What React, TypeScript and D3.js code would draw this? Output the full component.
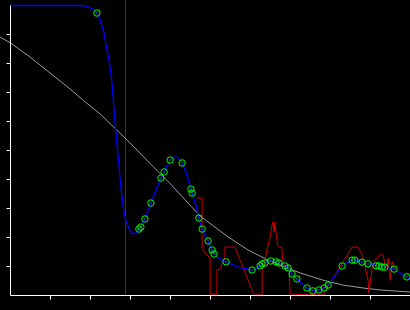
import React from "react";
import * as d3 from "d3";

const W = 410;
const H = 310;

// x domain 0..10, y domain 0..1 (no tick labels shown in reference)
const xTicks = [1, 2, 3, 4, 5, 6, 7, 8, 9];
const yTicks = [0.1, 0.2, 0.3, 0.4, 0.5, 0.6, 0.7, 0.8, 0.9];
const markerX = 2.875;

const grayX = [-0.26, 0, 0.49, 0.99, 1.49, 1.81, 2.24, 2.66, 2.99, 3.49, 3.99, 4.74, 5.44, 5.94, 6.44, 6.86, 7.24, 7.81, 8.31, 8.81, 9.24, 9.99];
const grayY = [0.891, 0.871, 0.822, 0.767, 0.712, 0.674, 0.626, 0.570, 0.526, 0.455, 0.386, 0.274, 0.202, 0.157, 0.122, 0.098, 0.078, 0.053, 0.036, 0.026, 0.019, 0.012];

const blueX = [0, 1.79, 1.91, 2.06, 2.16, 2.24, 2.34, 2.39, 2.44, 2.49, 2.53, 2.57, 2.63, 2.70, 2.76, 2.82, 2.88, 2.99, 3.06, 3.14, 3.21, 3.26, 3.36, 3.51, 3.64, 3.76, 3.84, 3.99, 4.11, 4.21, 4.29, 4.39, 4.51, 4.54, 4.64, 4.71, 4.79, 4.94, 5.04, 5.09, 5.24, 5.39, 5.69, 6.04, 6.24, 6.29, 6.36, 6.44, 6.54, 6.66, 6.74, 6.86, 6.94, 7.04, 7.16, 7.41, 7.56, 7.74, 7.84, 7.94, 8.29, 8.54, 8.64, 8.81, 8.94, 9.19, 9.29, 9.39, 9.59, 9.91, 9.99];
const blueY = [1.0, 1.0, 0.997, 0.988, 0.974, 0.950, 0.905, 0.864, 0.829, 0.788, 0.743, 0.674, 0.571, 0.467, 0.374, 0.305, 0.260, 0.222, 0.212, 0.216, 0.229, 0.236, 0.264, 0.319, 0.364, 0.405, 0.426, 0.467, 0.478, 0.474, 0.457, 0.426, 0.367, 0.353, 0.309, 0.267, 0.229, 0.188, 0.157, 0.143, 0.126, 0.116, 0.098, 0.088, 0.102, 0.109, 0.112, 0.119, 0.119, 0.116, 0.112, 0.102, 0.095, 0.074, 0.057, 0.026, 0.016, 0.019, 0.026, 0.036, 0.102, 0.122, 0.122, 0.112, 0.109, 0.102, 0.102, 0.098, 0.091, 0.064, 0.057];

const sampleX = [2.16, 3.21, 3.26, 3.36, 3.51, 3.76, 3.84, 3.99, 4.29, 4.51, 4.54, 4.71, 4.79, 4.94, 5.04, 5.09, 5.39, 6.04, 6.24, 6.29, 6.36, 6.51, 6.64, 6.71, 6.86, 6.94, 7.04, 7.16, 7.41, 7.56, 7.71, 7.84, 7.94, 8.29, 8.54, 8.61, 8.79, 8.94, 9.14, 9.21, 9.29, 9.36, 9.59, 9.91];
const sampleY = [0.974, 0.229, 0.236, 0.264, 0.319, 0.405, 0.426, 0.467, 0.457, 0.367, 0.353, 0.267, 0.229, 0.188, 0.157, 0.143, 0.116, 0.088, 0.102, 0.109, 0.112, 0.119, 0.116, 0.112, 0.102, 0.095, 0.074, 0.057, 0.026, 0.016, 0.019, 0.026, 0.036, 0.102, 0.122, 0.122, 0.115, 0.109, 0.102, 0.102, 0.098, 0.098, 0.091, 0.064];

const redX = [4.66, 4.79, 4.79, 4.86, 4.99, 4.99, 5.16, 5.16, 5.26, 5.29, 5.36, 5.36, 5.61, 6.06, 6.11, 6.29, 6.29, 6.34, 6.41, 6.49, 6.55, 6.59, 6.61, 6.65, 6.69, 6.78, 6.81, 6.86, 6.97, 6.99, 7.81, 8.54, 8.69, 8.81, 8.94, 8.96, 8.99, 9.06, 9.19, 9.24, 9.31, 9.36, 9.41, 9.44, 9.49, 9.54, 9.59, 9.66];
const redY = [0.336, 0.336, 0.167, 0.147, 0.129, 0.003, 0.003, 0.088, 0.091, 0.122, 0.129, 0.167, 0.167, 0.012, 0.003, 0.003, 0.085, 0.105, 0.157, 0.202, 0.253, 0.219, 0.253, 0.202, 0.167, 0.167, 0.116, 0.098, 0.098, 0.003, 0.003, 0.167, 0.167, 0.133, 0.053, 0.009, 0.043, 0.112, 0.133, 0.140, 0.140, 0.112, 0.098, 0.129, 0.053, 0.116, 0.095, 0.091];

const zip = (xs: number[], ys: number[]) => xs.map((x, i) => [x, ys[i]] as [number, number]);

export default function App() {
  const x = d3.scaleLinear().domain([0, 10]).range([10.5, 410.5]);
  const y = d3.scaleLinear().domain([0, 1]).range([295.5, 5.5]);
  const line = d3.line<[number, number]>().x((d) => x(d[0])).y((d) => y(d[1]));

  const gray = line(zip(grayX, grayY)) || "";
  const blue = line(zip(blueX, blueY)) || "";
  const red = line(zip(redX, redY)) || "";
  const samples = zip(sampleX, sampleY);

  return (
    <svg
      width={W}
      height={H}
      style={{ position: "absolute", left: 0, top: 0, background: "#000", display: "block" }}
    >
      <rect x={0} y={0} width={W} height={H} fill="#000" />
      <line x1={x(markerX)} x2={x(markerX)} y1={y.invert(0) ? 0 : 0} y2={y(0)} stroke="#800080" strokeWidth={1} />
      <path d={gray} fill="none" stroke="#9a9a9a" strokeWidth={1} />
      <path d={red} fill="none" stroke="#c80000" strokeWidth={1} />
      <path d={blue} fill="none" stroke="#0000ff" strokeWidth={1.3} />
      {samples.map((d, i) => (
        <g key={i}>
          <circle cx={x(d[0])} cy={y(d[1])} r={3.2} fill="none" stroke="#00ff00" strokeWidth={1} />
          <circle cx={x(d[0])} cy={y(d[1])} r={0.6} fill="#00aa00" />
        </g>
      ))}
      {/* axes */}
      <line x1={x(0)} x2={x(10)} y1={y(0)} y2={y(0)} stroke="#fff" strokeWidth={1} />
      <line x1={x(0)} x2={x(0)} y1={y(0)} y2={y(1)} stroke="#fff" strokeWidth={1} />
      {xTicks.map((t) => (
        <line key={"x" + t} x1={x(t)} x2={x(t)} y1={y(0)} y2={y(0) + 4} stroke="#fff" strokeWidth={1} />
      ))}
      {yTicks.map((t) => (
        <line key={"y" + t} x1={x(0) - 4} x2={x(0)} y1={y(t)} y2={y(t)} stroke="#fff" strokeWidth={1} />
      ))}
    </svg>
  );
}
